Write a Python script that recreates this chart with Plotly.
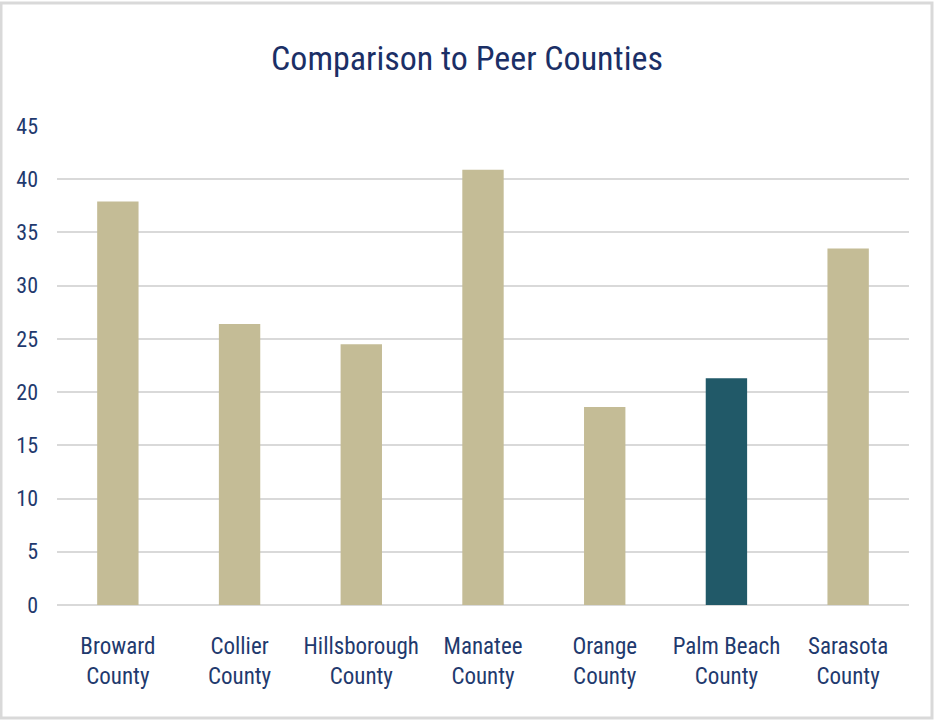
import plotly.graph_objects as go

categories = ["Broward<br>County", "Collier<br>County", "Hillsborough<br>County",
              "Manatee<br>County", "Orange<br>County", "Palm Beach<br>County",
              "Sarasota<br>County"]
values = [37.9, 26.4, 24.5, 40.9, 18.6, 21.3, 33.5]
highlight = "Palm Beach<br>County"
y_ticks = [0, 5, 10, 15, 20, 25, 30, 35, 40, 45]

TAN = "#c4bc96"
TEAL = "#215968"
NAVY = "#1f3a6e"
FONT = "Liberation Sans Narrow, Arial Narrow, Roboto Condensed, Liberation Sans, sans-serif"

colors = [TEAL if c == highlight else TAN for c in categories]

W, H = 934, 720
L, R, T, B = 57, 25, 126, 115

fig = go.Figure(go.Bar(x=categories, y=values, marker=dict(color=colors, line=dict(width=0)),
                       width=0.34, hoverinfo="x+y"))

pw = W - L - R
ph = H - T - B
fig.update_layout(
    width=W, height=H,
    margin=dict(l=L, r=R, t=T, b=B),
    paper_bgcolor="white", plot_bgcolor="white",
    showlegend=False,
    font=dict(family=FONT, color=NAVY),
    title=dict(text="Comparison to Peer Counties", x=0.5, xanchor="center",
               xref="container", y=(H - 58) / H, yref="container", yanchor="middle",
               font=dict(family=FONT, size=34, color="#1b2f66")),
    xaxis=dict(showgrid=False, showline=False, zeroline=False, ticks="",
               tickfont=dict(family=FONT, size=23, color=NAVY), ticklabelstandoff=25),
    yaxis=dict(range=[0, 45], tickvals=y_ticks, showgrid=True, gridcolor="#d9d9d9",
               gridwidth=2, zeroline=True, zerolinecolor="#d9d9d9", zerolinewidth=2,
               showline=False, ticks="", tickfont=dict(family=FONT, size=22, color=NAVY),
               ticklabelstandoff=18),
    shapes=[dict(type="rect", xref="paper", yref="paper", layer="above",
                 x0=(-L + 1) / pw, x1=(pw + R - 2) / pw,
                 y0=(-B + 2) / ph, y1=(ph + T - 3) / ph,
                 line=dict(color="#d9d9d9", width=3), fillcolor="rgba(0,0,0,0)")],
)

fig.write_html("out.html")
